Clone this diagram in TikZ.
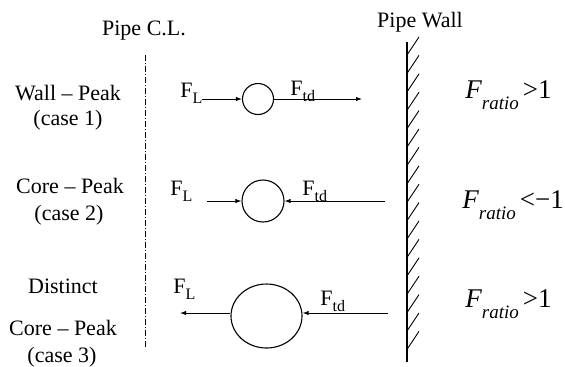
\documentclass[tikz,border=0pt]{standalone}
\usepackage{fontspec}
\setmainfont{Liberation Serif}
\usetikzlibrary{arrows.meta,shapes.geometric}
\newcommand{\subl}[1]{\raisebox{-0.28em}{\footnotesize #1}}
\newcommand{\fratio}{{\fontsize{13.5pt}{15pt}\selectfont\itshape F}\raisebox{-0.42em}{\fontsize{9.5pt}{11pt}\selectfont\itshape ratio}\kern2pt{\fontsize{13.5pt}{15pt}\selectfont}}
\begin{document}
\begin{tikzpicture}[x=0.5pt,y=-0.5pt,
  every node/.style={font=\fontsize{11pt}{13pt}\selectfont, inner sep=0pt},
  txt/.style={anchor=base},
  lbl/.style={anchor=base west},
  ratio/.style={anchor=base west, font=\fontsize{13.5pt}{15pt}\selectfont},
  force/.style={line width=0.45pt,-{Latex[length=3pt,width=2.2pt]}},
  bubble/.style={draw, line width=0.55pt, circle, inner sep=0pt},
  bigbubble/.style={draw, line width=0.55pt, ellipse, inner sep=0pt, minimum width=35.5pt, minimum height=32pt},
  clline/.style={line width=0.45pt, dash pattern=on 3pt off 1pt on 0.5pt off 1pt},
  wallline/.style={line width=0.75pt},
  hatch/.style={line width=0.45pt}]
\useasboundingbox (0,0) rectangle (565,366);

% headers
\node[txt] (cl) at (144,35) {Pipe C.L.};
\node[txt] (pw) at (420,27) {Pipe Wall};

% centre line
\coordinate (clt) at (145,55);
\coordinate (clb) at (145,347);
\draw[clline] (clt) -- (clb);

% pipe wall
\coordinate (wt) at (407,42);
\coordinate (wb) at (407,362);
\draw[wallline] (wt) -- (wb);
\foreach \k in {0,...,16}{
  \draw[hatch] (407,{55+\k*18.4}) -- (419,{37+\k*18.4});
}

% left labels
\node[txt] (c1a) at (68,100) {Wall – Peak};
\node[txt] (c1b) at (68,125) {(case 1)};
\node[txt] (c2a) at (70,193) {Core – Peak};
\node[txt] (c2b) at (69,220) {(case 2)};
\node[txt] (c3a) at (63,293) {Distinct};
\node[txt] (c3b) at (63,335) {Core – Peak};
\node[txt] (c3c) at (62,362) {(case 3)};

% case 1
\node[bubble, minimum size=15.5pt] (b1) at (258,99) {};
\coordinate (l1) at (202,99);
\coordinate (r1) at (362,99);
\draw[force] (l1) -- (b1.west);
\draw[force] (b1.east) -- (r1);
\node[lbl] (fl1) at (180,97) {F\subl{L}};
\node[lbl] (ft1) at (290,95) {F\subl{td}};
\node[ratio] (fr1) at (465,98) {\fratio>1};

% case 2
\node[bubble, minimum size=21pt] (b2) at (263,201) {};
\coordinate (l2) at (207,201);
\coordinate (r2) at (385,201);
\draw[force] (l2) -- (b2.west);
\draw[force] (r2) -- (b2.east);
\node[lbl] (fl2) at (170,195) {F\subl{L}};
\node[lbl] (ft2) at (302,195) {F\subl{td}};
\node[ratio] (fr2) at (462,208) {\fratio<−1};

% case 3
\node[bigbubble] (b3) at (266.5,316) {};
\coordinate (l3) at (180,313);
\coordinate (r3) at (388,313);
\draw[force] (b3.west |- l3) -- (l3);
\draw[force] (r3) -- (b3.east |- r3);
\node[lbl] (fl3) at (173,293) {F\subl{L}};
\node[lbl] (ft3) at (320,305) {F\subl{td}};
\node[ratio] (fr3) at (465,307) {\fratio>1};
\end{tikzpicture}
\end{document}
